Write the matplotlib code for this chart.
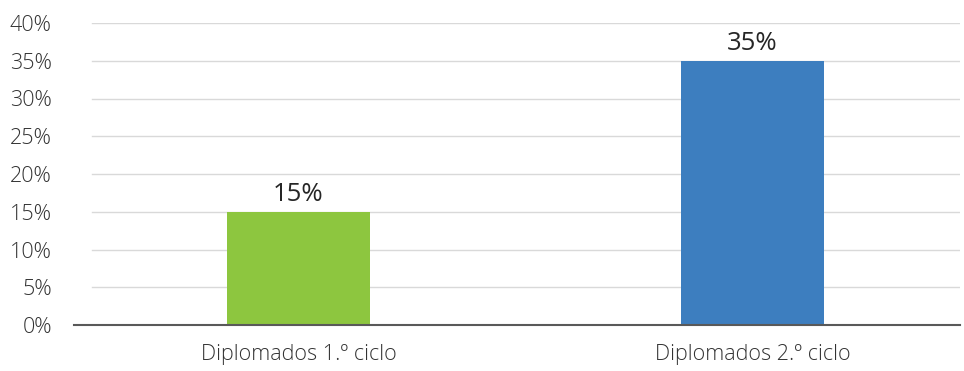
import matplotlib.pyplot as plt

# Data
categories = ["Diplomados 1.º ciclo", "Diplomados 2.º ciclo"]
values = [15, 35]
colors = ["#8dc63f", "#3d7ebf"]
yticks = [0, 5, 10, 15, 20, 25, 30, 35, 40]

plt.rcParams['font.family'] = ['Open Sans', 'DejaVu Sans']
plt.rcParams['font.weight'] = 'light'

fig = plt.figure(figsize=(9.64, 3.71), dpi=100)
ax = fig.add_axes([74 / 964, 46 / 371, 886 / 964, 302 / 371])

x = list(range(len(categories)))
ax.bar(x, values, width=0.315, color=colors, zorder=3)

for xi, v in zip(x, values):
    ax.text(xi, v + 0.6, f"{v}%", ha='center', va='bottom', fontsize=18.5,
            fontweight='normal', color='#262626')

ax.set_xlim(-0.4945, 1.457)
ax.set_ylim(0, 40)
ax.set_yticks(yticks)
ax.set_yticklabels([f"{t}%" for t in yticks], fontsize=15.5, color='#333333')
ax.set_xticks(x)
ax.set_xticklabels(categories, fontsize=15.5, color='#333333')
ax.tick_params(axis='y', length=0, pad=16)
ax.tick_params(axis='x', length=0, pad=14)

# gridlines start a little to the right of the baseline
for t in yticks[1:]:
    ax.axhline(t, xmin=0.0203, xmax=1, color='#d9d9d9', lw=1, zorder=1)

for side in ['top', 'right', 'left']:
    ax.spines[side].set_visible(False)
ax.spines['bottom'].set_color('#595959')
ax.spines['bottom'].set_linewidth(1.5)
ax.spines['bottom'].set_zorder(4)

fig.savefig("out.png", dpi=100)
